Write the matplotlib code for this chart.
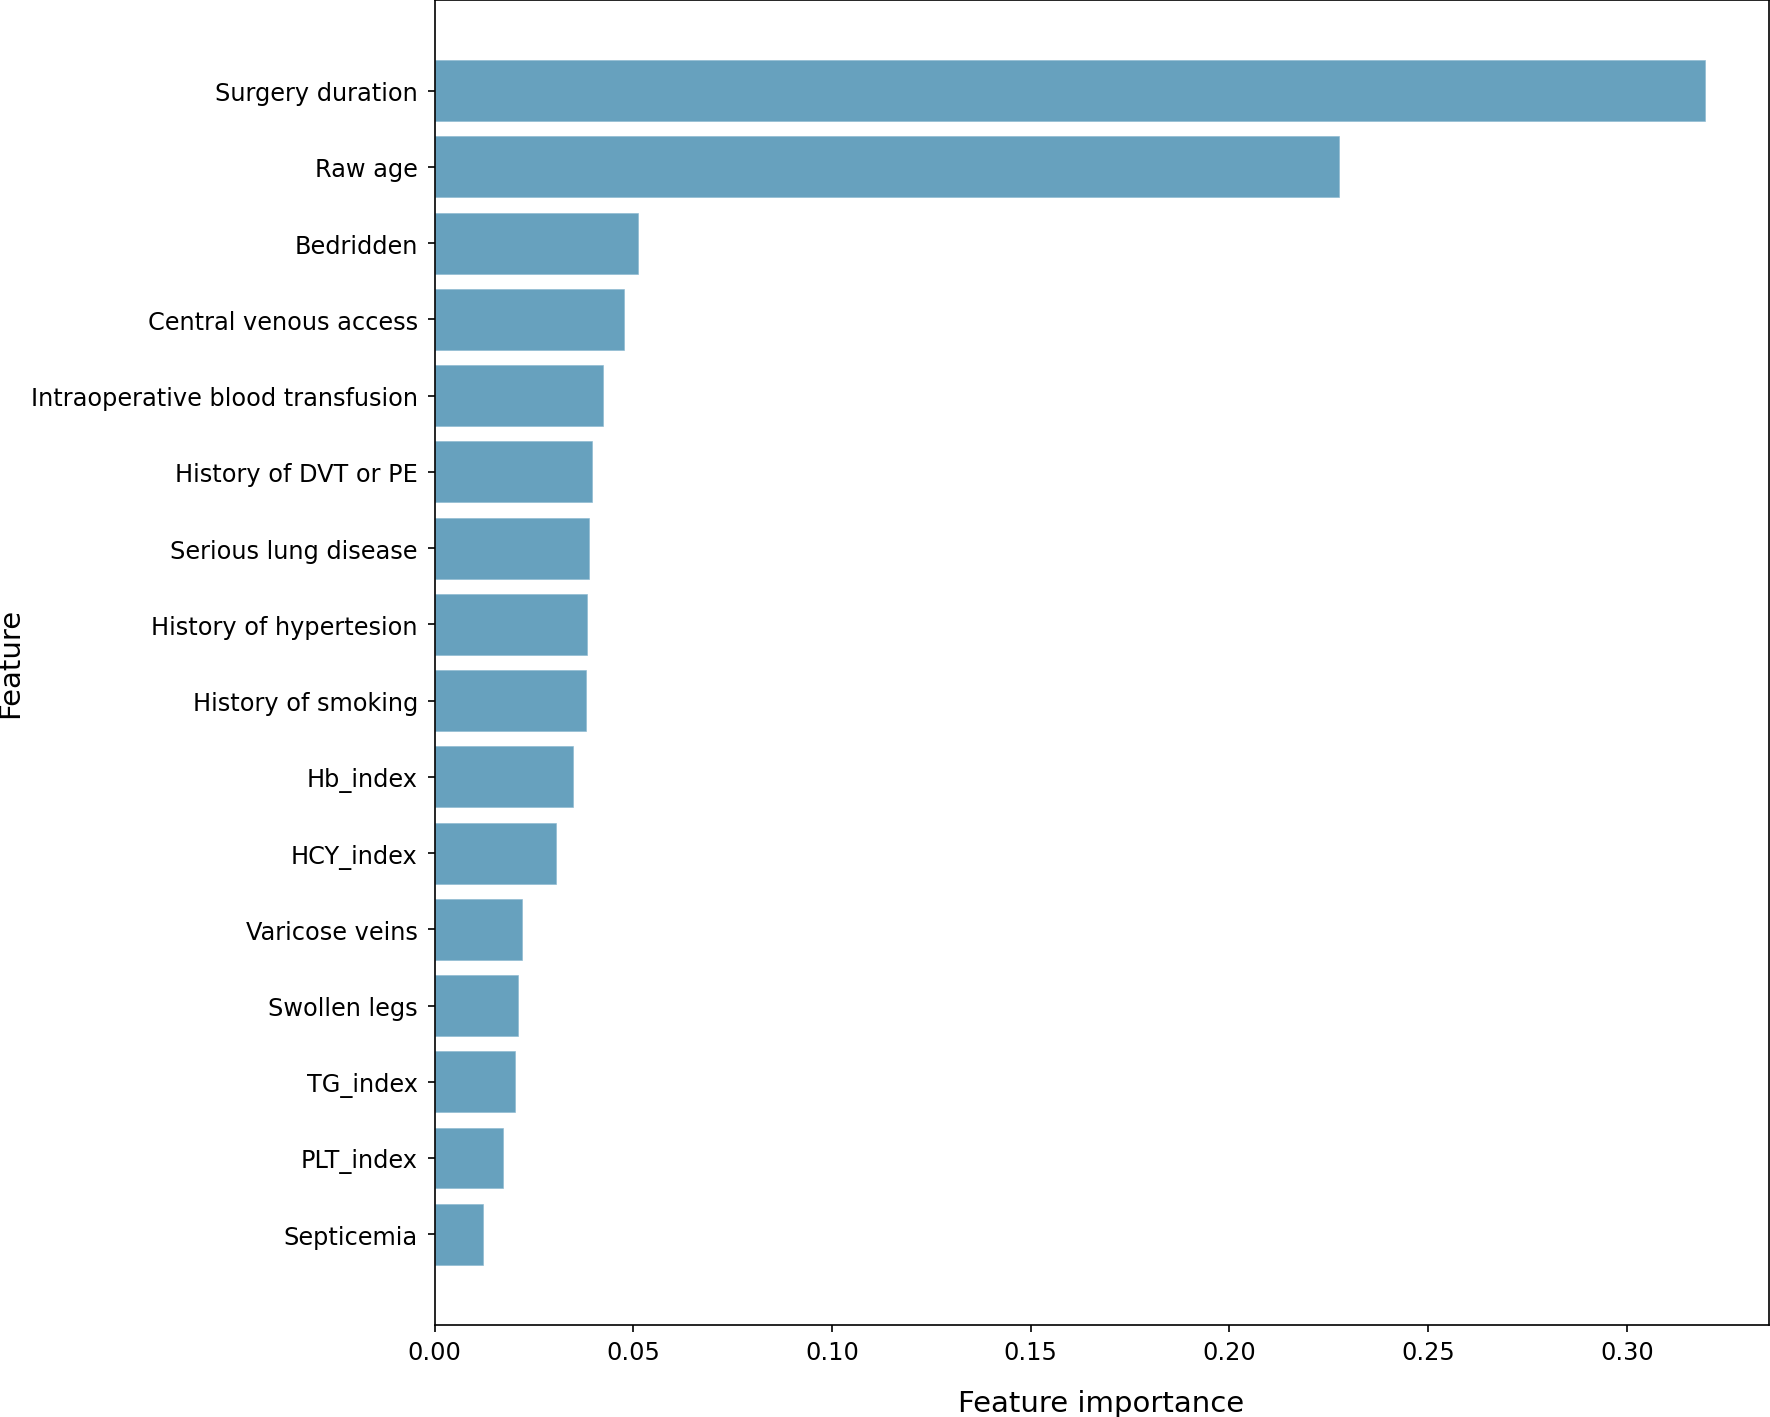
import numpy as np
import matplotlib
matplotlib.use('Agg')
import matplotlib.pyplot as plt

# Feature importances, top to bottom as shown
features = ['Surgery duration', 'Raw age', 'Bedridden', 'Central venous access',
            'Intraoperative blood transfusion', 'History of DVT or PE',
            'Serious lung disease', 'History of hypertesion', 'History of smoking',
            'Hb_index', 'HCY_index', 'Varicose veins', 'Swollen legs',
            'TG_index', 'PLT_index', 'Septicemia']
importance = [0.3197, 0.2275, 0.0512, 0.0478, 0.0424, 0.0397, 0.0388, 0.0384,
              0.0381, 0.0349, 0.0306, 0.0220, 0.0209, 0.0203, 0.0173, 0.0121]

fig = plt.figure(figsize=(11.8, 9.4533), dpi=150)
ax = fig.add_axes([0.2455, 0.0649, 0.7537, 0.9345])

y = np.arange(len(features))
ax.barh(y, importance, height=0.8, color='#67a1be', edgecolor='#8dbad1', linewidth=0.3)
ax.set_yticks(y)
ax.set_yticklabels(features, fontsize=11.5)
ax.invert_yaxis()
ax.tick_params(axis='y', pad=4.5)
ax.tick_params(axis='x', labelsize=11.5)
ax.set_xlabel('Feature importance', fontsize=14, labelpad=12)
ax.set_ylabel('Feature', fontsize=14, labelpad=3)

fig.savefig('out.png', dpi=150)
